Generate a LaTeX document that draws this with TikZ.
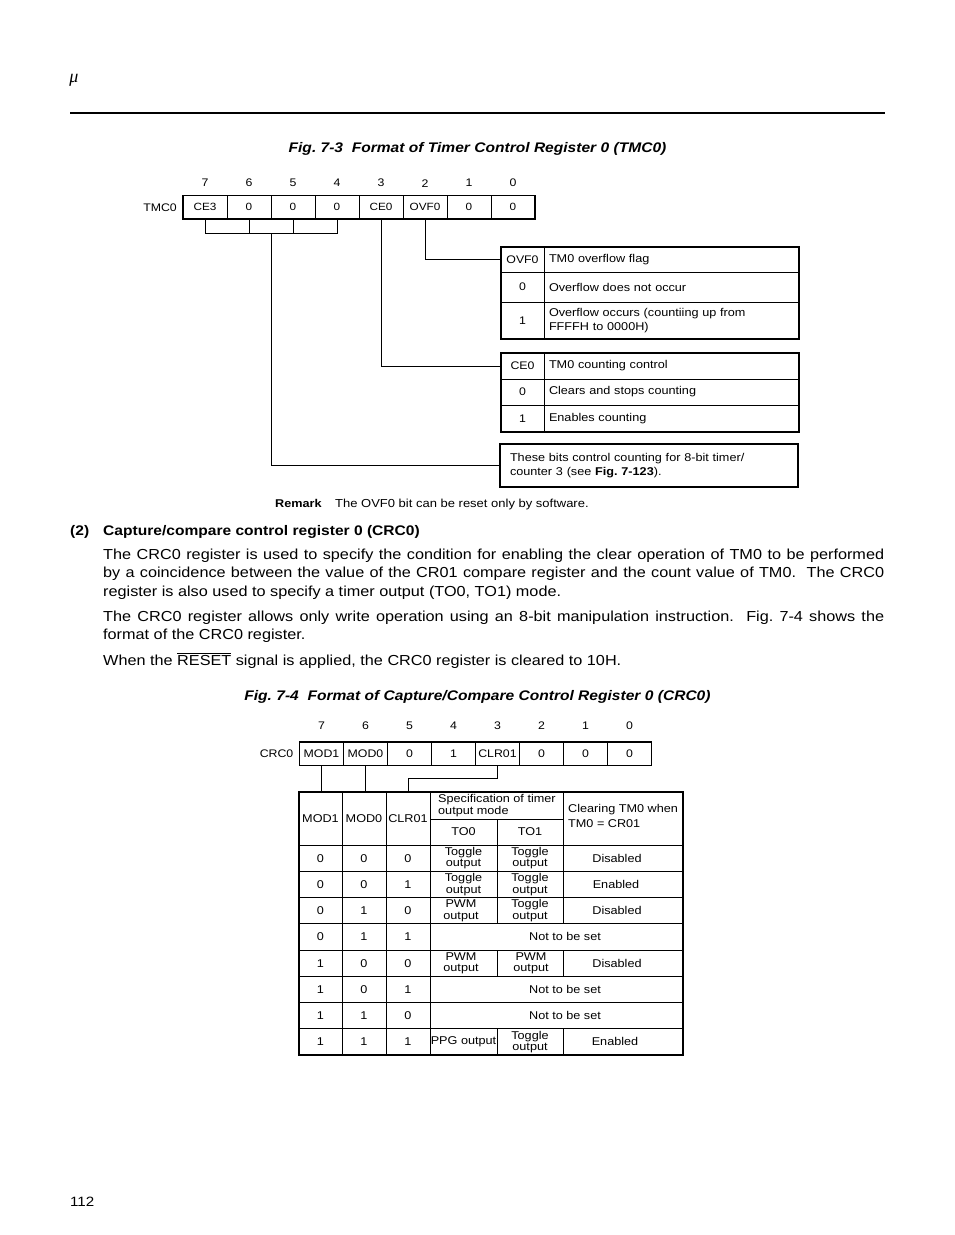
\documentclass[tikz,border=0pt]{standalone}
\usepackage{fontspec}
\setmainfont{Liberation Sans}[FakeStretch=1.12]
\newfontfamily\headfont{Liberation Serif}
\usepackage{tikz}
\usetikzlibrary{positioning,calc}

\begin{document}
\begin{tikzpicture}[
  x=1pt, y=-1pt,
  node distance=0pt,
  txt/.style={font=\fontsize{11}{13}\selectfont, inner sep=0pt},
  regcell/.style={draw, line width=0.8pt, outer sep=0pt, inner sep=0pt, minimum width=44pt, minimum height=23.5pt, font=\fontsize{11}{13}\selectfont},
  bitnum/.style={font=\fontsize{11}{13}\selectfont, inner sep=0pt},
  keycell/.style={draw, line width=0.8pt, outer sep=0pt, inner sep=0pt, minimum width=43pt, font=\fontsize{11}{13}\selectfont},
  desccell/.style={draw, line width=0.8pt, outer sep=0pt, inner xsep=5pt, inner ysep=0pt, text width=245pt, align=left, font=\fontsize{11.3}{14.5}\selectfont},
  frame/.style={line width=1.6pt},
  link/.style={line width=0.8pt},
  grid/.style={line width=0.8pt},
  caption/.style={font=\fontsize{13.9}{16}\selectfont\bfseries\itshape, inner sep=0pt},
  body/.style={font=\fontsize{14.5}{18.5}\selectfont, text width=781pt, align=justify, inner sep=0pt},
  cell/.style={font=\fontsize{11.3}{11.5}\selectfont, inner sep=0pt, align=center}
]
\useasboundingbox (0,0) rectangle (954,1235);

% page head
\node[font=\fontsize{18}{20}\selectfont\headfont\itshape, inner sep=0pt] (mu) at (74,80) {μ};
\draw[line width=2pt] (70,113) -- (885,113);

\node[caption, anchor=base] (cap3) at (477.5,152) {Fig.\ 7-3\ \ Format of Timer Control Register 0 (TMC0)};

% TMC0 register
\node[regcell, font=\fontsize{10.5}{13}\selectfont, anchor=north west] (t7) at (183,195.5) {CE3};
\node[regcell, font=\fontsize{10.5}{13}\selectfont, right=of t7] (t6) {0};
\node[regcell, font=\fontsize{10.5}{13}\selectfont, right=of t6] (t5) {0};
\node[regcell, font=\fontsize{10.5}{13}\selectfont, right=of t5] (t4) {0};
\node[regcell, font=\fontsize{10.5}{13}\selectfont, right=of t4] (t3) {CE0};
\node[regcell, font=\fontsize{10.5}{13}\selectfont, right=of t3] (t2) {OVF0};
\node[regcell, font=\fontsize{10.5}{13}\selectfont, right=of t2] (t1) {0};
\node[regcell, font=\fontsize{10.5}{13}\selectfont, right=of t1] (t0) {0};
\draw[frame] (t7.north west) rectangle (t0.south east);
\node[txt, left=6pt of t7] (tmc) {TMC0};

\node[bitnum, above=8.5pt of t7] (tb7) {7};
\node[bitnum, above=8.5pt of t6] (tb6) {6};
\node[bitnum, above=8.5pt of t5] (tb5) {5};
\node[bitnum, above=8.5pt of t4] (tb4) {4};
\node[bitnum, above=8.5pt of t3] (tb3) {3};
\node[bitnum, above=7.5pt of t2] (tb2) {2};
\node[bitnum, above=8.5pt of t1] (tb1) {1};
\node[bitnum, above=8.5pt of t0] (tb0) {0};

% OVF0 table
\node[keycell, minimum height=25pt, anchor=north west] (ovfk) at (501,247) {OVF0};
\node[desccell, minimum height=25pt, right=of ovfk] (ovfd) {TM0 overflow flag};
\node[keycell, minimum height=30pt, below=of ovfk] (ovfk0) {0};
\node[desccell, minimum height=30pt, right=of ovfk0] (ovfd0) {Overflow does not occur};
\node[keycell, minimum height=37pt, below=of ovfk0] (ovfk1) {1};
\node[desccell, minimum height=37pt, right=of ovfk1] (ovfd1) {Overflow occurs (countiing up from\\FFFFH to 0000H)};
\draw[frame] (ovfk.north west) rectangle (ovfd1.south east);

% CE0 table
\node[keycell, minimum height=26pt, anchor=north west] (cek) at (501,353) {CE0};
\node[desccell, minimum height=26pt, right=of cek] (ced) {TM0 counting control};
\node[keycell, minimum height=26pt, below=of cek] (cek0) {0};
\node[desccell, minimum height=26pt, right=of cek0] (ced0) {Clears and stops counting};
\node[keycell, minimum height=27pt, below=of cek0] (cek1) {1};
\node[desccell, minimum height=27pt, right=of cek1] (ced1) {Enables counting};
\draw[frame] (cek.north west) rectangle (ced1.south east);

% note on CE3
\node[draw, frame, anchor=north west, outer sep=0pt, inner xsep=10pt, inner ysep=0pt, text width=278pt, minimum height=43pt, align=left, font=\fontsize{11.3}{14}\selectfont] (note) at (500,444) {These bits control counting for 8-bit timer/\\counter 3 (see \textbf{Fig.\ 7-123}).};

% connectors
\draw[link] (t2.south) |- (ovfk.west);
\draw[link] (t3.south) |- (cek.west);
\draw[link] (t7.south) -- ++(0,14) -| (t4.south);
\draw[link] (t6.south) -- ++(0,14);
\draw[link] (t5.south) -- ++(0,14);
\coordinate (brk) at ($(t6.south east)+(0,14)$);
\draw[link] (brk) |- (note.west);

\node[txt, anchor=base west, font=\fontsize{11.3}{13}\selectfont\bfseries] (rmk) at (275,507) {Remark};
\node[txt, anchor=base west, font=\fontsize{11.6}{13}\selectfont] (rmktxt) at (335,507) {The OVF0 bit can be reset only by software.};

% section text
\node[anchor=base west, inner sep=0pt, font=\fontsize{13.9}{16}\selectfont\bfseries] (secno) at (70,535) {(2)};
\node[anchor=base west, inner sep=0pt, font=\fontsize{13.9}{16}\selectfont\bfseries] (sec) at (103,535) {Capture/compare control register 0 (CRC0)};
\node[body, anchor=base west] (p1) at (103,559) {The CRC0 register is used to specify the condition for enabling the clear operation of TM0 to be performed\linebreak by a coincidence between the value of the CR01 compare register and the count value of TM0.\ \ The CRC0\linebreak register is also used to specify a timer output (TO0, TO1) mode.};
\node[body, anchor=base west] (p2) at (103,621) {The CRC0 register allows only write operation using an 8-bit manipulation instruction.\ \ Fig.\ 7-4 shows the\linebreak format of the CRC0 register.};
\node[anchor=base west, inner sep=0pt, font=\fontsize{14.5}{18.5}\selectfont] (p3) at (103,665) {When the $\overline{\mbox{RESET}}$ signal is applied, the CRC0 register is cleared to 10H.};

\node[caption, anchor=base] (cap4) at (477.5,700) {Fig.\ 7-4\ \ Format of Capture/Compare Control Register 0 (CRC0)};

% CRC0 register
\node[regcell, anchor=north west] (c7) at (299.5,742) {MOD1};
\node[regcell, right=of c7] (c6) {MOD0};
\node[regcell, right=of c6] (c5) {0};
\node[regcell, right=of c5] (c4) {1};
\node[regcell, right=of c4] (c3) {CLR01};
\node[regcell, right=of c3] (c2) {0};
\node[regcell, right=of c2] (c1) {0};
\node[regcell, right=of c1] (c0) {0};
\draw[frame] (c7.north west) rectangle (c0.south east);
\node[txt, left=6pt of c7] (crc) {CRC0};

\node[bitnum, above=12pt of c7] (cb7) {7};
\node[bitnum, above=12pt of c6] (cb6) {6};
\node[bitnum, above=12pt of c5] (cb5) {5};
\node[bitnum, above=12pt of c4] (cb4) {4};
\node[bitnum, above=12pt of c3] (cb3) {3};
\node[bitnum, above=12pt of c2] (cb2) {2};
\node[bitnum, above=12pt of c1] (cb1) {1};
\node[bitnum, above=12pt of c0] (cb0) {0};

% CRC0 mode table
\draw[grid] (342,792) -- (342,1055) (386,792) -- (386,1055) (430,792) -- (430,1055);
\draw[grid] (563,792) -- (563,923.75);
\draw[grid] (430,819) -- (563,819);
\draw[grid] (497,819) -- (497,923.75) (497,950) -- (497,976.25) (497,1028.75) -- (497,1055);
\draw[grid] (563,950) -- (563,976.25) (563,1028.75) -- (563,1055);
\foreach \k in {0,...,7}
  \draw[grid] (299,845+26.25*\k) -- (683,845+26.25*\k);
\draw[frame] (299,792) rectangle (683,1055);

\node[cell, minimum width=43pt, minimum height=53pt] (hmod1) at (320.5,818.5) {MOD1};
\node[cell, minimum width=44pt, minimum height=53pt] (hmod0) at (364,818.5) {MOD0};
\node[cell, minimum width=44pt, minimum height=53pt] (hclr) at (408,818.5) {CLR01};
\node[cell, anchor=west, align=left] (hspec) at (438,805.5) {Specification of timer\\output mode};
\node[cell] (hto0) at (463.5,832) {TO0};
\node[cell] (hto1) at (530,832) {TO1};
\node[cell, anchor=west, align=left, font=\fontsize{11.3}{14.5}\selectfont] (hclear) at (568,816) {Clearing TM0 when\\TM0 = CR01};

\draw[link] (c7.south) -- (c7.south |- hmod1.north);
\draw[link] (c6.south) -- (c6.south |- hmod0.north);
\draw[link] (c3.south) -- ++(0,13) -| (hclr.north);

\foreach \a/\b/\c [count=\r] in {0/0/0,0/0/1,0/1/0,0/1/1,1/0/0,1/0/1,1/1/0,1/1/1} {
  \node[cell] (m1-\r) at (320.5,845+26.25*\r-13.1) {\a};
  \node[cell] (m0-\r) at (364,845+26.25*\r-13.1) {\b};
  \node[cell] (cl-\r) at (408,845+26.25*\r-13.1) {\c};
}
\node[cell] (to0-1) at (463.5,858.1) {Toggle\\output};
\node[cell] (to1-1) at (530,858.1) {Toggle\\output};
\node[cell] (en-1) at (617,858.1) {Disabled};
\node[cell] (to0-2) at (463.5,884.4) {Toggle\\output};
\node[cell] (to1-2) at (530,884.4) {Toggle\\output};
\node[cell] (en-2) at (616,884.4) {Enabled};
\node[cell] (to0-3) at (461,910.6) {PWM\\output};
\node[cell] (to1-3) at (530,910.6) {Toggle\\output};
\node[cell] (en-3) at (617,910.6) {Disabled};
\node[cell] (ns-4) at (565,936.9) {Not to be set};
\node[cell] (to0-5) at (461,963.1) {PWM\\output};
\node[cell] (to1-5) at (531,963.1) {PWM\\output};
\node[cell] (en-5) at (617,963.1) {Disabled};
\node[cell] (ns-6) at (565,989.4) {Not to be set};
\node[cell] (ns-7) at (565,1015.6) {Not to be set};
\node[cell] (to0-8) at (463.5,1041.9) {PPG output};
\node[cell] (to1-8) at (530,1041.9) {Toggle\\output};
\node[cell] (en-8) at (615,1041.9) {Enabled};

% page number
\node[anchor=base west, inner sep=0pt, font=\fontsize{13.5}{17}\selectfont] (page) at (70,1206) {112};
\end{tikzpicture}
\end{document}
